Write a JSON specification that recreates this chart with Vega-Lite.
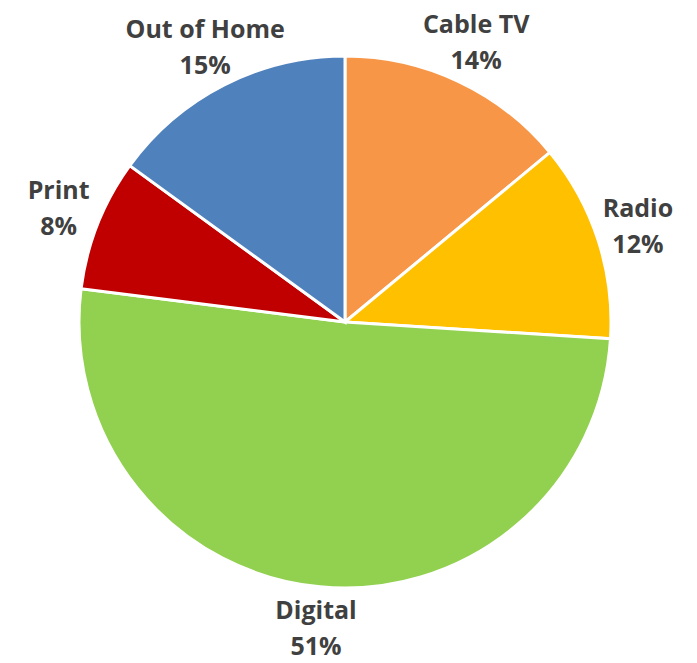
{
  "$schema": "https://vega.github.io/schema/vega-lite/v6.json",
  "width": 690,
  "height": 644,
  "autosize": "none",
  "padding": {"left": 0, "top": 0, "right": 7, "bottom": 19},
  "background": "white",
  "data": {"values": [
    {"category": "Cable TV", "value": 14, "rank": 1},
    {"category": "Radio", "value": 12, "rank": 2},
    {"category": "Digital", "value": 51, "rank": 3},
    {"category": "Print", "value": 8, "rank": 4},
    {"category": "Out of Home", "value": 15, "rank": 5}
  ]},
  "transform": [
    {"calculate": "datum.value + '%'", "as": "pct"}
  ],
  "encoding": {
    "theta": {"field": "value", "type": "quantitative", "stack": true},
    "order": {"field": "rank", "type": "quantitative"}
  },
  "layer": [
    {
      "mark": {"type": "arc", "outerRadius": 266, "stroke": "white", "strokeWidth": 3},
      "encoding": {
        "color": {
          "field": "category", "type": "nominal", "legend": null,
          "scale": {
            "domain": ["Cable TV", "Radio", "Digital", "Print", "Out of Home"],
            "range": ["#F79646", "#FFC000", "#92D050", "#C00000", "#4F81BD"]
          }
        }
      }
    },
    {
      "mark": {"type": "text", "radius": 308, "dy": -18, "font": "Open Sans", "fontWeight": "bold", "fontSize": 25, "color": "#404040", "align": "center", "baseline": "middle"},
      "encoding": {
        "text": {"field": "category", "type": "nominal"}
      }
    },
    {
      "mark": {"type": "text", "radius": 308, "dy": 18, "font": "Open Sans", "fontWeight": "bold", "fontSize": 25, "color": "#404040", "align": "center", "baseline": "middle"},
      "encoding": {
        "text": {"field": "pct", "type": "nominal"}
      }
    }
  ]
}
